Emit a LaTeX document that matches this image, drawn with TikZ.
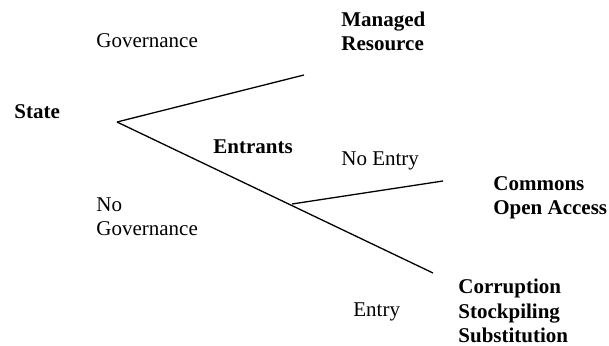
\documentclass[tikz,border=0pt]{standalone}
\usepackage{fontspec}
\setmainfont{Liberation Serif}

\begin{document}
\begin{tikzpicture}[x=0.5pt, y=-0.5pt, font=\fontsize{10.5}{12.4}\selectfont,
  lbl/.style={anchor=base west, inner sep=0pt, align=left},
  outcome/.style={lbl, font=\fontsize{10.5}{12.25}\selectfont\bfseries},
  branch/.style={line width=0.65pt}]

\useasboundingbox (0,0) rectangle (609,346);

% tree points
\coordinate (root) at (117,122);
\coordinate (gov) at (304,75);
\coordinate (ent) at (292,204);
\coordinate (noentry) at (443,181);
\coordinate (entry) at (433,273);

\draw[branch] (root) -- (gov);
\draw[branch] (root) -- (entry);
\draw[branch] (ent) -- (noentry);

% decision makers
\node[outcome] (state) at (14,119) {State};
\node[outcome] (entrants) at (213,154) {Entrants};

% choices (base = last line)
\node[lbl] (govlbl) at (96,48) {Governance};
\node[lbl] (nogovlbl) at (96,236) {No\\Governance};
\node[lbl] (noentrylbl) at (341,166) {No Entry};
\node[lbl] (entrylbl) at (353,317) {Entry};

% outcomes
\node[outcome] (managed) at (341,51) {Managed\\Resource};
\node[outcome] (commons) at (493,215) {Commons\\Open Access};
\node[outcome] (corrupt) at (458,343) {Corruption\\Stockpiling\\Substitution};

\end{tikzpicture}
\end{document}
